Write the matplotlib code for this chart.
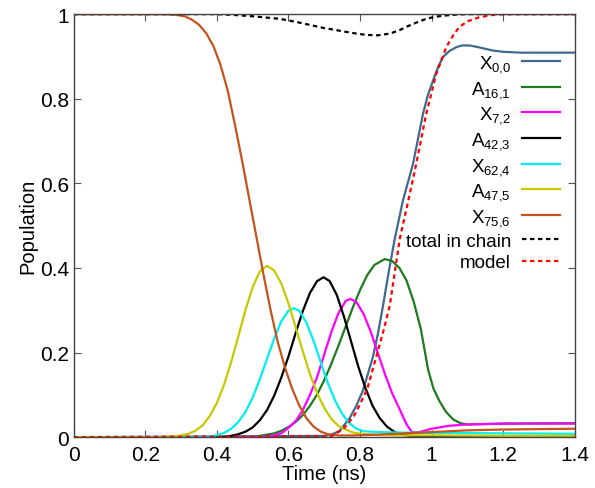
import numpy as np
import matplotlib
matplotlib.use("Agg")
import matplotlib.pyplot as plt
from matplotlib.ticker import FormatStrFormatter

plt.rcParams['font.family'] = ['Liberation Sans', 'DejaVu Sans']
plt.rcParams['mathtext.fontset'] = 'custom'
plt.rcParams['mathtext.rm'] = 'Liberation Sans'
plt.rcParams['mathtext.it'] = 'Liberation Sans'

# values (time in ns, population)
t_x00 = [0, 0.70, 0.72, 0.743, 0.771, 0.79, 0.808, 0.836, 0.85, 0.864, 0.88, 0.897, 0.92, 0.948, 0.976,
         0.99, 1.004, 1.018, 1.032, 1.05, 1.069, 1.085, 1.106, 1.13, 1.171, 1.2, 1.25, 1.3, 1.4]
p_x00 = [0, 0.003, 0.006, 0.015, 0.045, 0.075, 0.11, 0.19, 0.245, 0.31, 0.39, 0.469, 0.56, 0.646, 0.765,
         0.81, 0.843, 0.875, 0.899, 0.913, 0.922, 0.926, 0.926, 0.922, 0.914, 0.911, 0.909, 0.909, 0.909]

t_a161 = [0, 0.50, 0.52, 0.54, 0.56, 0.58, 0.60, 0.62, 0.64, 0.66, 0.68, 0.70, 0.72, 0.74, 0.76, 0.78,
          0.80, 0.82, 0.84, 0.869, 0.89, 0.91, 0.93, 0.95, 0.97, 0.99, 1.005, 1.022, 1.04, 1.06, 1.08,
          1.1, 1.2, 1.4]
p_a161 = [0, 0, 0.003, 0.006, 0.009, 0.015, 0.024, 0.036, 0.052, 0.074, 0.101, 0.135, 0.174, 0.217, 0.262, 0.307,
          0.348, 0.383, 0.407, 0.421, 0.416, 0.400, 0.37, 0.32, 0.255, 0.16, 0.115, 0.085, 0.06, 0.042, 0.033,
          0.03, 0.032, 0.033]

t_x72 = [0, 0.52, 0.54, 0.56, 0.58, 0.60, 0.62, 0.64, 0.66, 0.68, 0.70, 0.72, 0.74, 0.76, 0.773, 0.79,
         0.81, 0.83, 0.85, 0.87, 0.89, 0.91, 0.93, 0.945, 0.96, 0.98, 1.0, 1.05, 1.1, 1.2, 1.4]
p_x72 = [0, 0, 0.002, 0.004, 0.009, 0.022, 0.038, 0.064, 0.10, 0.142, 0.196, 0.249, 0.294, 0.322, 0.327, 0.319,
         0.291, 0.249, 0.198, 0.148, 0.103, 0.067, 0.03, 0.012, 0.011, 0.015, 0.02, 0.027, 0.03, 0.032, 0.032]

t_a423 = [0, 0.42, 0.44, 0.46, 0.48, 0.50, 0.52, 0.54, 0.56, 0.58, 0.60, 0.62, 0.64, 0.66, 0.68, 0.698,
          0.715, 0.735, 0.755, 0.775, 0.795, 0.815, 0.835, 0.855, 0.875, 0.895, 0.915, 0.94, 1.0, 1.4]
p_a423 = [0, 0, 0.003, 0.007, 0.013, 0.023, 0.040, 0.064, 0.098, 0.141, 0.191, 0.246, 0.298, 0.341, 0.369, 0.378,
          0.369, 0.336, 0.285, 0.226, 0.167, 0.116, 0.074, 0.045, 0.025, 0.013, 0.006, 0.003, 0.002, 0.001]

t_x624 = [0, 0.38, 0.40, 0.42, 0.44, 0.46, 0.48, 0.50, 0.52, 0.54, 0.56, 0.58, 0.60, 0.615, 0.63, 0.65,
          0.67, 0.69, 0.71, 0.73, 0.75, 0.77, 0.79, 0.81, 0.85, 0.9, 1.0, 1.2, 1.4]
p_x624 = [0, 0, 0.005, 0.010, 0.020, 0.036, 0.060, 0.094, 0.137, 0.185, 0.233, 0.274, 0.299, 0.305, 0.299, 0.271,
          0.228, 0.177, 0.128, 0.087, 0.055, 0.033, 0.02, 0.014, 0.012, 0.011, 0.01, 0.009, 0.008]

t_a475 = [0, 0.24, 0.26, 0.28, 0.30, 0.32, 0.34, 0.36, 0.38, 0.40, 0.42, 0.44, 0.46, 0.48, 0.50, 0.52,
          0.54, 0.56, 0.58, 0.60, 0.62, 0.64, 0.66, 0.68, 0.70, 0.72, 0.74, 0.76, 0.78, 0.80, 0.85, 0.9,
          1.0, 1.2, 1.4]
p_a475 = [0, 0, 0.001, 0.002, 0.004, 0.008, 0.015, 0.028, 0.050, 0.081, 0.124, 0.178, 0.239, 0.301, 0.355, 0.392,
          0.405, 0.394, 0.363, 0.316, 0.260, 0.203, 0.149, 0.104, 0.069, 0.043, 0.026, 0.018, 0.011, 0.008, 0.005, 0.004,
          0.004, 0.003, 0.003]

t_x756 = [0, 0.25, 0.28, 0.31, 0.33, 0.35, 0.37, 0.39, 0.41, 0.43, 0.45, 0.47, 0.49, 0.51, 0.53, 0.55,
          0.57, 0.59, 0.61, 0.63, 0.65, 0.67, 0.69, 0.71, 0.74, 0.78, 0.85, 0.9, 1.0, 1.1, 1.2, 1.3, 1.4]
p_x756 = [1, 1, 0.999, 0.995, 0.987, 0.975, 0.955, 0.925, 0.88, 0.82, 0.74, 0.655, 0.565, 0.475, 0.385, 0.30,
          0.225, 0.165, 0.115, 0.075, 0.045, 0.025, 0.013, 0.007, 0.004, 0.004, 0.006, 0.008, 0.012, 0.016, 0.018, 0.019, 0.02]

t_total = [0, 0.40, 0.45, 0.50, 0.575, 0.62, 0.668, 0.70, 0.715, 0.762, 0.79, 0.818, 0.85, 0.883, 0.91,
           0.929, 0.96, 0.985, 1.01, 1.041, 1.07, 1.1, 1.4]
p_total = [1, 1, 0.998, 0.995, 0.989, 0.982, 0.973, 0.967, 0.965, 0.958, 0.954, 0.951, 0.95, 0.954, 0.962,
           0.97, 0.981, 0.989, 0.994, 0.997, 0.999, 1, 1]

t_model = [0, 0.72, 0.753, 0.783, 0.80, 0.82, 0.846, 0.865, 0.883, 0.897, 0.911, 0.935, 0.957, 0.985, 1.0,
           1.013, 1.041, 1.06, 1.078, 1.10, 1.134, 1.17, 1.2, 1.4]
p_model = [0, 0.002, 0.019, 0.05, 0.078, 0.114, 0.192, 0.25, 0.311, 0.39, 0.469, 0.56, 0.646, 0.765, 0.815,
           0.859, 0.922, 0.95, 0.97, 0.983, 0.993, 0.998, 1.0, 1.0]

series = [
    (t_x00, p_x00, r'X$_{0{,}0}$', '#3f6a8e', '-'),
    (t_a161, p_a161, r'A$_{16{,}1}$', '#1d7a1d', '-'),
    (t_x72, p_x72, r'X$_{7{,}2}$', '#ff00ff', '-'),
    (t_a423, p_a423, r'A$_{42{,}3}$', '#000000', '-'),
    (t_x624, p_x624, r'X$_{62{,}4}$', '#00f0f0', '-'),
    (t_a475, p_a475, r'A$_{47{,}5}$', '#c8c800', '-'),
    (t_x756, p_x756, r'X$_{75{,}6}$', '#c4541c', '-'),
    (t_total, p_total, 'total in chain', '#000000', (0, (2, 1.6))),
    (t_model, p_model, 'model', '#ff0000', (0, (2, 1.6))),
]

fig = plt.figure(figsize=(5.95, 4.89), dpi=100)
ax = fig.add_axes([0.124, 0.104, 0.842, 0.865])

for t, p, lab, col, ls in series:
    ax.plot(t, p, color=col, linestyle=ls, lw=1.6, label=lab)

ax.set_xlim(0, 1.4)
ax.set_ylim(0, 1)
ax.set_xticks(np.arange(0, 1.41, 0.2))
ax.set_yticks(np.arange(0, 1.01, 0.2))
ax.xaxis.set_major_formatter(FormatStrFormatter('%g'))
ax.yaxis.set_major_formatter(FormatStrFormatter('%g'))
ax.tick_params(direction='in', top=True, right=True, length=5, labelsize=15, color='#555555')
ax.tick_params(axis='x', pad=6)
for s in ax.spines.values():
    s.set_color('#444444')
    s.set_linewidth(1.0)

ax.set_xlabel('Time (ns)', fontsize=14.5, labelpad=0)
ax.set_ylabel('Population', fontsize=14.5, labelpad=2)

leg = ax.legend(loc='upper right', bbox_to_anchor=(0.985, 0.925), frameon=False,
                markerfirst=False, fontsize=13.5, handlelength=2.0,
                handletextpad=0.6, labelspacing=0.25, borderaxespad=0)

fig.savefig('out.png', dpi=100)
